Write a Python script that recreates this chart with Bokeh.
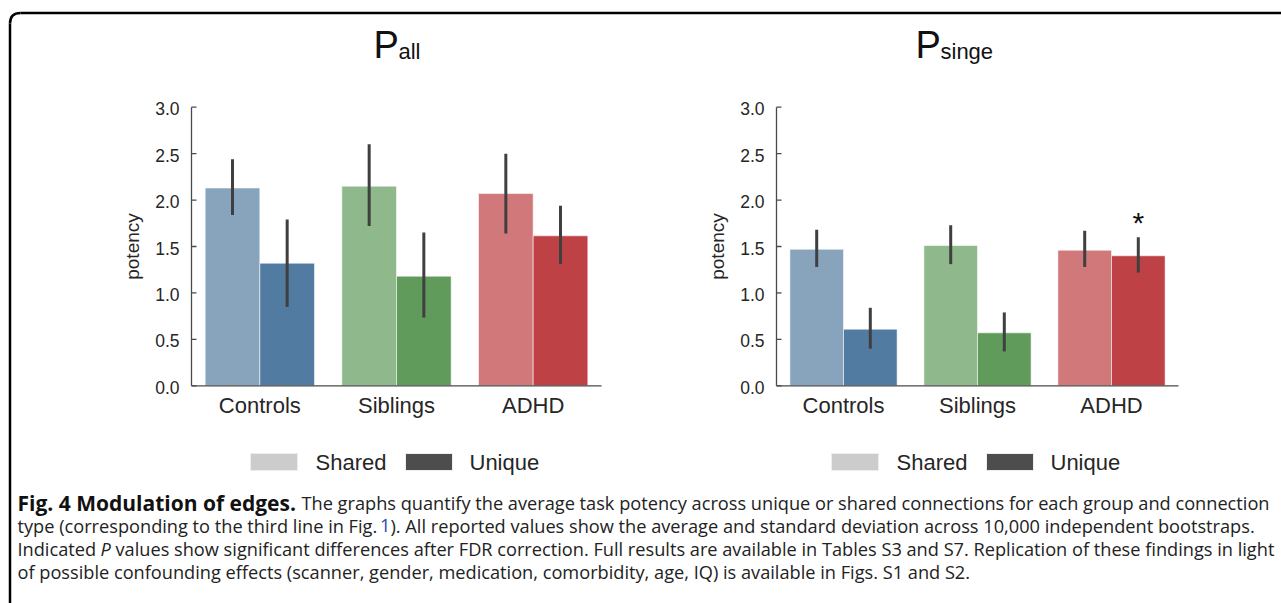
from bokeh.plotting import figure
from bokeh.models import Range1d
from bokeh.core.properties import value
from bokeh.embed import file_html
from bokeh.resources import INLINE

# ---------------- data ----------------
groups = ["Controls", "Siblings", "ADHD"]
conn_types = ["Shared", "Unique"]
yticks = [0.0, 0.5, 1.0, 1.5, 2.0, 2.5, 3.0]
ytick_labels = ["0.0", "0.5", "1.0", "1.5", "2.0", "2.5", "3.0"]

pall_shared = [2.13, 2.15, 2.07]
pall_shared_lo = [1.84, 1.72, 1.64]
pall_shared_hi = [2.44, 2.60, 2.50]
pall_unique = [1.32, 1.18, 1.615]
pall_unique_lo = [0.85, 0.735, 1.31]
pall_unique_hi = [1.79, 1.65, 1.94]
pall_signif = [False, False, False]

psingle_shared = [1.47, 1.51, 1.46]
psingle_shared_lo = [1.28, 1.31, 1.28]
psingle_shared_hi = [1.68, 1.73, 1.67]
psingle_unique = [0.61, 0.57, 1.40]
psingle_unique_lo = [0.40, 0.37, 1.22]
psingle_unique_hi = [0.84, 0.79, 1.60]
psingle_signif = [False, False, True]

shared_colors = ["#88a4bd", "#8fb98c", "#d0787a"]
unique_colors = ["#517ba0", "#609b5c", "#be4145"]
legend_colors = ["#cccccc", "#4d4d4d"]

caption_lines = [
    ["Fig. 4 Modulation of edges.", "The graphs quantify the average task potency across unique or shared connections for each group and connection"],
    ["type (corresponding to the third line in Fig.", "1", "). All reported values show the average and standard deviation across 10,000 independent bootstraps."],
    ["Indicated", "P", "values show significant differences after FDR correction. Full results are available in Tables S3 and S7. Replication of these findings in light"],
    ["of possible confounding effects (scanner, gender, medication, comorbidity, age, IQ) is available in Figs. S1 and S2."],
]

# ---------------- layout ----------------
W, H = 1281, 603
SANS = value("Liberation Sans")
CAP = value("Open Sans")
INK = "#262626"

p = figure(width=W, height=H, output_backend="svg", toolbar_location=None,
           x_range=Range1d(0, W), y_range=Range1d(H, 0),
           x_axis_type=None, y_axis_type=None, min_border=0,
           outline_line_color=None, background_fill_color="white")
p.xgrid.visible = False
p.ygrid.visible = False


def panel(name, px0, px1, py0, py3, shared, slo, shi, unique, ulo, uhi, signif):
    n = len(groups)
    kx = (px1 - px0) / n
    xs = -0.5 - px0 / kx
    p.extra_x_ranges[name] = Range1d(xs, xs + W / kx)
    ky = (py0 - py3) / (yticks[-1] - yticks[0])
    ys = yticks[0] - (H - py0) / ky
    p.extra_y_ranges[name] = Range1d(ys, ys + H / ky)
    kw = dict(x_range_name=name, y_range_name=name)
    idx = list(range(n))
    xsh = [i - 0.2 for i in idx]
    xun = [i + 0.2 for i in idx]
    p.vbar(x=xsh, top=shared, bottom=0, width=0.4, fill_color=shared_colors,
           line_color="white", line_alpha=0.55, line_width=1, **kw)
    p.vbar(x=xun, top=unique, bottom=0, width=0.4, fill_color=unique_colors,
           line_color="white", line_alpha=0.55, line_width=1, **kw)
    p.segment(x0=xsh, y0=slo, x1=xsh, y1=shi, line_color="#3f3f3f", line_width=3, **kw)
    p.segment(x0=xun, y0=ulo, x1=xun, y1=uhi, line_color="#3f3f3f", line_width=3, **kw)
    # axes
    lo_x, hi_x = -0.5, n - 0.5
    p.segment(x0=[lo_x], y0=[yticks[0]], x1=[lo_x], y1=[yticks[-1]],
              line_color="#4a4a4a", line_width=1.3, **kw)
    p.segment(x0=[lo_x], y0=[yticks[0]], x1=[hi_x], y1=[yticks[0]],
              line_color="#4a4a4a", line_width=1.3, **kw)
    p.segment(x0=[lo_x] * len(yticks), y0=yticks, x1=[lo_x + 5 / kx] * len(yticks), y1=yticks,
              line_color="#4a4a4a", line_width=1.3, **kw)
    p.text(x=[lo_x] * len(yticks), y=yticks, text=ytick_labels, x_offset=-12, y_offset=1.5,
           text_align="right", text_baseline="middle", text_font=SANS,
           text_font_size="17.5px", text_color=INK, **kw)
    p.text(x=idx, y=[0] * n, text=groups, y_offset=20, text_align="center",
           text_baseline="middle", text_font=SANS, text_font_size="22px",
           text_color=INK, **kw)
    sx = [xun[i] for i in idx if signif[i]]
    sy = [uhi[i] for i in idx if signif[i]]
    p.text(x=sx, y=sy, text=["*"] * len(sx), y_offset=-15, text_align="center",
           text_baseline="middle", text_font=SANS, text_font_size="30px",
           text_color="#111111", **kw)


panel("all", 191, 601, 385.3, 106.7, pall_shared, pall_shared_lo, pall_shared_hi,
      pall_unique, pall_unique_lo, pall_unique_hi, pall_signif)
panel("single", 776, 1178, 385.3, 106.7, psingle_shared, psingle_shared_lo, psingle_shared_hi,
      psingle_unique, psingle_unique_lo, psingle_unique_hi, psingle_signif)

# y-axis titles
p.text(x=[132, 717], y=[246, 246], text=["potency", "potency"], angle=1.5708,
       text_align="center", text_baseline="middle", text_font=SANS,
       text_font_size="19px", text_color=INK)

# panel titles
p.text(x=[373, 915], y=[44.5, 44.5], text=["P", "P"], text_font=SANS,
       text_font_size="38px", text_color="#111111", text_baseline="middle")
p.text(x=[398, 940], y=[50.5, 50.5], text=["all", "singe"], text_font=SANS,
       text_font_size="22px", text_color="#111111", text_baseline="middle")

# legends
for lx in (250, 831):
    p.quad(left=[lx, lx + 155], right=[lx + 47, lx + 202], top=[453, 453], bottom=[470, 470],
           fill_color=legend_colors, line_color="#eeeeee", line_width=1)
    p.text(x=[lx + 65, lx + 219], y=[461.7, 461.7], text=conn_types, text_font=SANS,
           text_font_size="22px", text_color=INK, text_baseline="middle")

# border
p.segment(x0=[9.5], y0=[H + 2], x1=[9.5], y1=[23], line_color="black", line_width=2.5)
p.quadratic(x0=[9.5], y0=[23], x1=[20], y1=[12.5], cx=[9.5], cy=[12.5],
            line_color="black", line_width=2.5)
p.segment(x0=[20], y0=[12.5], x1=[W + 2], y1=[12.5], line_color="black", line_width=2.5)

# caption
mid = [502, 525, 548, 571]
CS = "18.2px"
ck = dict(text_font=CAP, text_baseline="middle")
p.text(x=[17], y=[mid[0]], text=[caption_lines[0][0]], text_font_size="21px",
       text_font_style="bold", text_color="#111111", **ck)
p.text(x=[301], y=[mid[0]], text=[caption_lines[0][1]], text_font_size=CS,
       text_color="#222222", **ck)
p.text(x=[17], y=[mid[1]], text=[caption_lines[1][0]], text_font_size=CS,
       text_color="#222222", **ck)
p.text(x=[379.5], y=[mid[1]], text=[caption_lines[1][1]], text_font_size=CS,
       text_color="#2a49a8", **ck)
p.text(x=[390], y=[mid[1]], text=[caption_lines[1][2]], text_font_size=CS,
       text_color="#222222", **ck)
p.text(x=[17], y=[mid[2]], text=[caption_lines[2][0]], text_font_size=CS,
       text_color="#222222", **ck)
p.text(x=[100], y=[mid[2]], text=[caption_lines[2][1]], text_font_size=CS,
       text_font_style="italic", text_color="#222222", **ck)
p.text(x=[115], y=[mid[2]], text=[caption_lines[2][2]], text_font_size=CS,
       text_color="#222222", **ck)
p.text(x=[17], y=[mid[3]], text=[caption_lines[3][0]], text_font_size=CS,
       text_color="#222222", **ck)

open("out.html", "w").write(file_html(p, INLINE))
